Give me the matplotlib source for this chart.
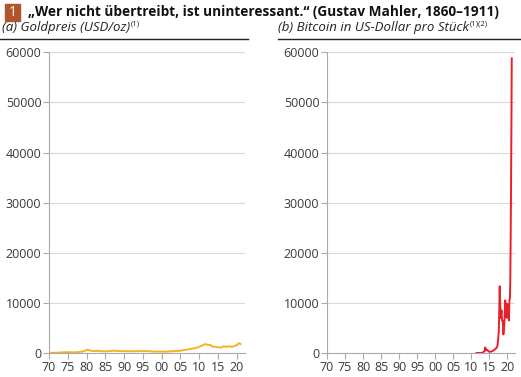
import matplotlib
matplotlib.use('Agg')
import matplotlib.pyplot as plt
from matplotlib.lines import Line2D
from matplotlib.patches import Rectangle

plt.rcParams['font.family'] = ['Open Sans', 'DejaVu Sans']

# gold, USD/oz
gold_t = [1970, 1971, 1972, 1973, 1974, 1975, 1976, 1977, 1978, 1979,
          1979.9, 1980.1, 1980.5, 1981, 1982, 1983, 1984, 1985, 1986, 1987,
          1988, 1989, 1990, 1991, 1992, 1993, 1994, 1995, 1996, 1997,
          1998, 1999, 2000, 2001, 2002, 2003, 2004, 2005, 2006, 2007,
          2008, 2009, 2010, 2011, 2011.7, 2012, 2013, 2013.5, 2014, 2015,
          2015.9, 2016.5, 2017, 2018, 2018.7, 2019, 2019.7, 2020, 2020.6, 2021]
gold_v = [35, 41, 58, 97, 154, 161, 125, 148, 193, 307,
          520, 675, 620, 460, 376, 424, 361, 317, 368, 447,
          437, 381, 383, 362, 344, 360, 384, 384, 388, 331,
          294, 279, 279, 271, 310, 363, 409, 444, 603, 695,
          872, 972, 1225, 1572, 1770, 1669, 1600, 1250, 1266, 1160,
          1060, 1330, 1257, 1330, 1200, 1290, 1500, 1560, 1970, 1800]

# bitcoin, USD
btc_t = [2011.5, 2012, 2012.5, 2013, 2013.3, 2013.8, 2013.95, 2014.2, 2014.5, 2015,
         2015.5, 2016, 2016.5, 2017, 2017.3, 2017.5, 2017.7, 2017.85, 2017.95, 2018.1,
         2018.25, 2018.45, 2018.6, 2018.8, 2018.97, 2019.2, 2019.35, 2019.5, 2019.7, 2019.9,
         2020.05, 2020.2, 2020.35, 2020.5, 2020.65, 2020.8, 2020.9, 2021.0, 2021.1, 2021.2,
         2021.3]
btc_v = [15, 5, 7, 13, 130, 400, 1100, 550, 620, 250,
         260, 400, 650, 1000, 1300, 2500, 4500, 9000, 13300, 9500,
         7000, 8500, 6500, 6400, 3700, 5500, 8000, 10500, 8500, 7000,
         9800, 7500, 9000, 6500, 10500, 11000, 15000, 23000, 33000, 45000,
         58800]

ticks = list(range(1970, 2021, 5))
tick_labels = ['%02d' % (y % 100) for y in ticks]
yticks = [0, 10000, 20000, 30000, 40000, 50000, 60000]

fig = plt.figure(figsize=(5.21, 3.77), dpi=100)
W, H = 521, 377

def make_ax(x0, x1):
    ax = fig.add_axes([x0 / W, 1 - 353 / H, (x1 - x0) / W, (353 - 52.3) / H])
    ax.set_xlim(1970, 2022.2)
    ax.set_ylim(0, 60000)
    ax.set_xticks(ticks)
    ax.set_xticklabels(tick_labels)
    ax.set_yticks(yticks)
    ax.set_yticklabels([str(v) for v in yticks])
    ax.grid(axis='y', color='#d9d9d9', lw=0.8)
    ax.set_axisbelow(True)
    for s in ['top', 'right']:
        ax.spines[s].set_visible(False)
    for s in ['left', 'bottom']:
        ax.spines[s].set_color('#aaaaaa')
        ax.spines[s].set_linewidth(0.8)
    ax.tick_params(colors='#aaaaaa', labelcolor='#3a3a3a', labelsize=9,
                   length=4, width=0.8, pad=1.5)
    return ax

ax1 = make_ax(49, 245)
ax1.plot(gold_t, gold_v, color='#f5b324', lw=1.4)

ax2 = make_ax(327, 515)
ax2.plot(btc_t, btc_v, color='#e8202a', lw=1.4)

# header
fig.add_artist(Rectangle((5 / W, 1 - 21 / H), 15 / W, 17 / H, color='#b0542c',
                         transform=fig.transFigure))
fig.text(12.5 / W, 1 - 12.5 / H, '1', color='white', fontsize=10,
         ha='center', va='center')
fig.text(28 / W, 1 - 12 / H,
         '\u201eWer nicht \u00fcbertreibt, ist uninteressant.\u201c (Gustav Mahler, 1860\u20131911)',
         fontsize=9.85, fontweight='bold', color='#111111', va='center')

fig.canvas.draw()
renderer = fig.canvas.get_renderer()

def subtitle(x, text, sup):
    t = fig.text(x / W, 1 - 27.5 / H, text, fontsize=9.5, style='italic',
                 color='#222222', va='center')
    bb = t.get_window_extent(renderer)
    fig.text(bb.x1 / W + 0.001, 1 - 24 / H, sup, fontsize=5.5, color='#222222',
             va='center')

subtitle(2, '(a) Goldpreis (USD/oz)', '(1)')
subtitle(278, '(b) Bitcoin in US-Dollar pro St\u00fcck', '(1)(2)')

fig.add_artist(Line2D([0, 248 / W], [1 - 38.5 / H] * 2, color='#222222', lw=1,
                      transform=fig.transFigure))
fig.add_artist(Line2D([278 / W, 1], [1 - 38.5 / H] * 2, color='#222222', lw=1,
                      transform=fig.transFigure))

fig.savefig('out.png', dpi=100)
